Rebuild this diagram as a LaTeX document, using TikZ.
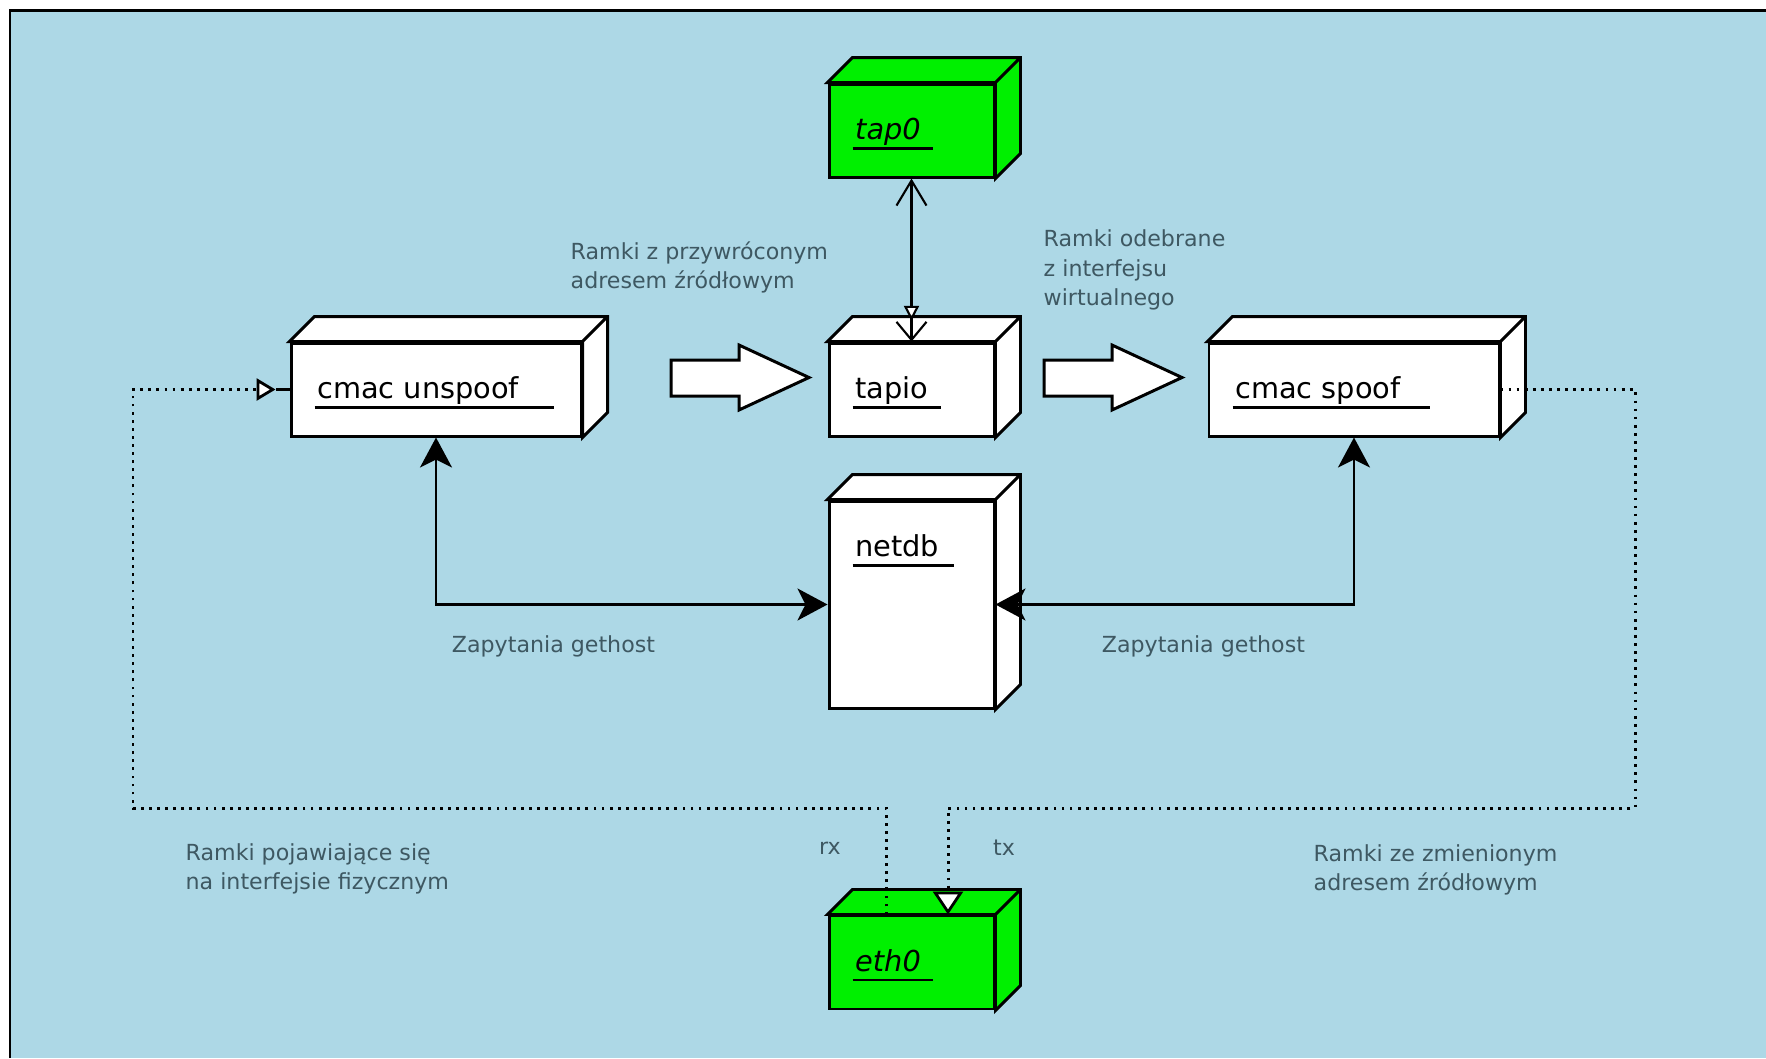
\documentclass[tikz,border=0pt]{standalone}
\usepackage{fontspec}
\setmainfont{DejaVu Sans}
\usetikzlibrary{positioning,arrows.meta,calc}
\definecolor{bgblue}{RGB}{173,216,230}
\definecolor{objgreen}{RGB}{0,240,0}
\definecolor{notegray}{RGB}{62,88,98}

\begin{document}
\begin{tikzpicture}[
  font=\fontsize{8.2}{10}\selectfont,
  box/.style={draw, line width=0.85pt, inner sep=0pt, minimum width=16.5mm,
              minimum height=9.3mm},
  wide/.style={box, minimum width=29mm},
  note/.style={font=\fontsize{6.3}{8.3}\selectfont, text=notegray, inner sep=0pt,
               align=left},
  dbl/.style={line width=0.6pt, {Stealth[length=3mm, width=3.2mm, inset=0.8mm]}-{Stealth[length=3mm, width=3.2mm, inset=0.8mm]}},
  dots/.style={line width=0.85pt, dash pattern=on 0.8pt off 1.5pt},
  flow/.style={draw, line width=0.85pt, fill=white}
]
\useasboundingbox (0,0) rectangle (176.6mm,-105.8mm);
\fill[bgblue] (1mm,-1mm) rectangle (176.6mm,-105.8mm);
\draw[line width=0.85pt] (1mm,-105.8mm) -- (1mm,-1mm) -- (176.6mm,-1mm);

\node[box, fill=white] (tapio) at (91.15mm,-38.95mm) {};
\node[box, fill=objgreen, above=16.3mm of tapio] (tap0) {};
\node[box, fill=white, minimum height=20.7mm, below=6.2mm of tapio] (netdb) {};
\node[box, fill=objgreen, below=20.5mm of netdb] (eth0) {};
\node[wide, fill=white, left=24.5mm of tapio] (unspoof) {};
\node[wide, fill=white, right=21.2mm of tapio] (spoof) {};

% top and side faces
\foreach \n/\c in {tap0/objgreen, tapio/white, netdb/white, eth0/objgreen, unspoof/white, spoof/white}
  \filldraw[fill=\c, line width=0.85pt] (\n.north west) -- ++(2.5mm,2.5mm)
    -| ([shift={(2.5mm,2.5mm)}]\n.south east) -- (\n.south east) -- (\n.north east) -- cycle
    (\n.north east) -- ++(2.5mm,2.5mm);

% underlined names
\foreach \n/\t in {tap0/\textit{tap0}, tapio/tapio, netdb/netdb, eth0/\textit{eth0}, unspoof/cmac unspoof, spoof/cmac spoof}{
  \node[anchor=base west, inner sep=0pt] (\n-t) at ([shift={(2.7mm,-5.7mm)}]\n.north west) {\t};
  \draw[line width=0.85pt] ([shift={(-0.2mm,-0.85mm)}]\n-t.base west)
    -- ($(\n-t.base west)!1.17!(\n-t.base east) + (0,-0.85mm)$);
}

\foreach \x in {6.71,10.44}
  \draw[flow] (\x,-3.6) -- ++(0.68,0) -- ++(0,0.15) -- ++(0.7,-0.325) -- ++(-0.7,-0.325)
    -- ++(0,0.14) -- ++(-0.68,0) -- cycle;

\draw[line width=0.6pt, {Straight Barb[length=2.5mm, width=3mm]}-{Triangle[open, fill=white, length=1.5mm, width=1.5mm] Straight Barb[length=1.8mm, width=3mm]}] (tap0.south) -- (tapio.north);

\draw[dbl] (unspoof.south) |- node[note, pos=0.65, below=3mm] {Zapytania gethost} (netdb.west);
\draw[dbl] (spoof.south) |- node[note, pos=0.71, below=3mm] {Zapytania gethost} (netdb.east);

\coordinate (rxturn) at (13.3mm,-80.8mm);
\coordinate (txturn) at (163.5mm,-80.8mm);
\draw[dots, shorten >=1.4mm, -{Triangle[open, fill=white, length=1.9mm, width=2.2mm, line width=0.8pt]}]
  ([xshift=-2.55mm]eth0.north) |- (rxturn) |- (unspoof.west);
\draw[line width=0.85pt] (unspoof.west) -- ++(-1.4mm,0);
\draw[dots, -{Triangle[open, fill=white, length=2.3mm, width=3mm, line width=0.8pt]}]
  (spoof.east) -| (txturn) -| ([xshift=3.65mm]eth0.north);

\node[note] (rx) at (83mm,-84.8mm) {rx};
\node[note] (tx) at (100.4mm,-84.8mm) {tx};
\node[note, anchor=west] (restored) at (57mm,-26.75mm) {Ramki z przywróconym\\adresem źródłowym};
\node[note, anchor=west] (received) at (104.3mm,-27mm) {Ramki odebrane\\z interfejsu\\wirtualnego};
\node[note, anchor=west] (physical) at (18.5mm,-86.9mm) {Ramki pojawiające się\\na interfejsie fizycznym};
\node[note, anchor=west] (changed) at (131.3mm,-87mm) {Ramki ze zmienionym\\adresem źródłowym};
\end{tikzpicture}
\end{document}
